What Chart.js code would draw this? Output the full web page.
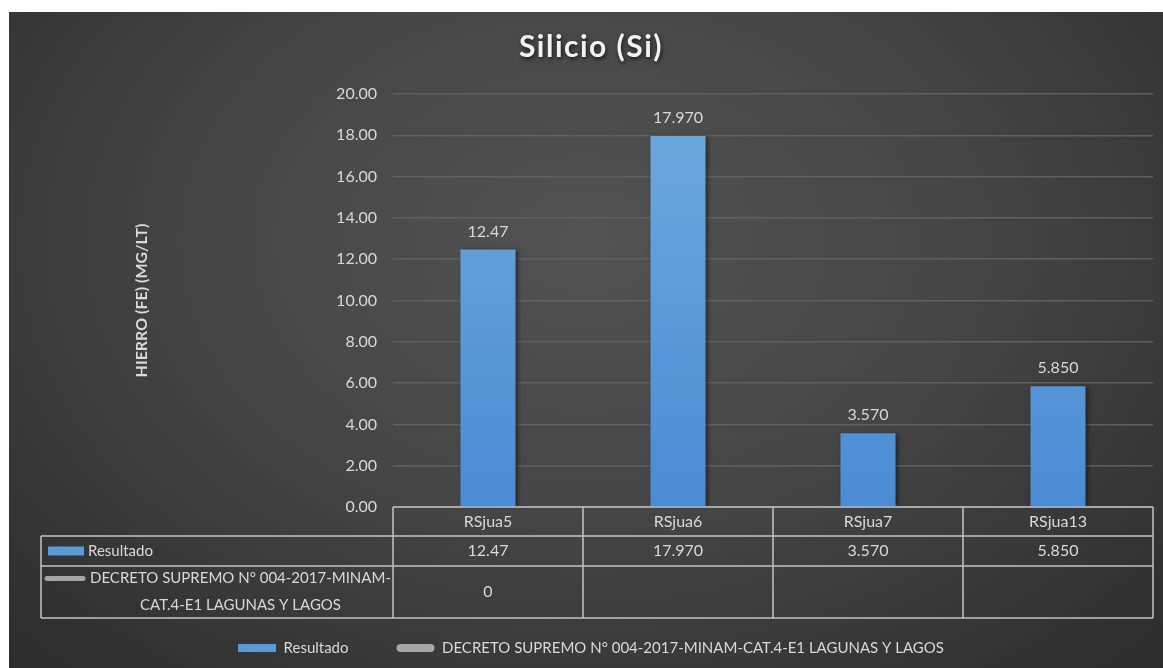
<!DOCTYPE html>
<html lang="es">
<head>
  <meta charset="UTF-8">
  <title>Silicio (Si)</title>
  <script src="https://cdn.jsdelivr.net/npm/chart.js"></script>
  <style>
    body { margin: 0; background: #fff; }
    #box {
      position: absolute; left: 9px; top: 12px; width: 1154px; height: 656px;
      background: radial-gradient(ellipse 75% 95% at 50% 35%, #525252 0%, #474747 40%, #2a2a2a 100%);
    }
  </style>
</head>
<body>
  <div id="box"><canvas id="chart"></canvas></div>

  <script>
    // datos
    const estaciones = ["RSjua5", "RSjua6", "RSjua7", "RSjua13"];
    const resultado = [12.47, 17.97, 3.57, 5.85];
    const textoResultado = ["12.47", "17.970", "3.570", "5.850"];
    const decreto = [0, null, null, null];
    const textoDecreto = ["0", "", "", ""];
    const nombreResultado = "Resultado";
    const nombreDecreto = "DECRETO SUPREMO N° 004-2017-MINAM-CAT.4-E1 LAGUNAS Y LAGOS";
    const titulo = "Silicio (Si)";
    const tituloY = "HIERRO (FE) (MG/LT)";

    const fuente = 'Lato, "Open Sans", sans-serif';
    const gris = "#d9d9d9";
    const azul = "#5b9bd5";
    const grisLinea = "#a6a6a6";

    function azulBarra(chart) {
      const a = chart.chartArea;
      if (!a) return azul;
      const g = chart.ctx.createLinearGradient(0, a.top, 0, a.bottom);
      g.addColorStop(0, "#6fa9e0");
      g.addColorStop(1, "#4a8bd3");
      return g;
    }

    // corta el texto en espacios o guiones
    function cortar(ctx, texto, ancho) {
      const trozos = texto.split(/(?<=[\s-])/);
      const lineas = [];
      let actual = "";
      for (const t of trozos) {
        if (actual && ctx.measureText((actual + t).trim()).width > ancho) {
          lineas.push(actual.trim());
          actual = t;
        } else {
          actual += t;
        }
      }
      if (actual) lineas.push(actual.trim());
      return lineas;
    }

    const tituloPlugin = {
      id: "tituloPlugin",
      afterDraw(chart) {
        const ctx = chart.ctx;
        ctx.save();
        ctx.font = "bold 30px " + fuente;
        ctx.letterSpacing = "1.5px";
        ctx.fillStyle = "#f2f2f2";
        ctx.textAlign = "center";
        ctx.textBaseline = "middle";
        ctx.shadowColor = "rgba(0,0,0,0.7)";
        ctx.shadowBlur = 4;
        ctx.shadowOffsetX = 1;
        ctx.shadowOffsetY = 2;
        ctx.fillText(titulo, (20 + chart.width - 10) / 2, 35);
        ctx.restore();
      }
    };

    // sombra suave de las barras
    const sombraPlugin = {
      id: "sombraPlugin",
      beforeDatasetDraw(chart, args) {
        if (args.index !== 0) return;
        const ctx = chart.ctx;
        ctx.save();
        ctx.shadowColor = "rgba(0,0,0,0.45)";
        ctx.shadowBlur = 4;
        ctx.shadowOffsetX = 2;
        ctx.shadowOffsetY = 1;
      },
      afterDatasetDraw(chart, args) {
        if (args.index !== 0) return;
        chart.ctx.restore();
      }
    };

    const etiquetasPlugin = {
      id: "etiquetasPlugin",
      afterDatasetsDraw(chart) {
        const ctx = chart.ctx;
        const meta = chart.getDatasetMeta(0);
        ctx.save();
        ctx.font = "16px " + fuente;
        ctx.fillStyle = gris;
        ctx.textAlign = "center";
        ctx.textBaseline = "bottom";
        meta.data.forEach((barra, i) => {
          ctx.fillText(textoResultado[i], barra.x, barra.y - 10);
        });
        ctx.restore();
      }
    };

    // tabla de datos bajo el eje x
    const tablaPlugin = {
      id: "tablaPlugin",
      afterDraw(chart) {
        const ctx = chart.ctx;
        const a = chart.chartArea;
        const x = chart.scales.x;
        const izq = 32;
        const filas = [a.bottom, a.bottom + 29, a.bottom + 59, a.bottom + 111];
        const n = estaciones.length;
        const colW = (a.right - a.left) / n;

        ctx.save();
        ctx.strokeStyle = "#c4c4c4";
        ctx.lineWidth = 1.5;
        ctx.beginPath();
        ctx.moveTo(a.left, filas[0]); ctx.lineTo(a.right, filas[0]);
        for (let r = 1; r < 4; r++) { ctx.moveTo(izq, filas[r]); ctx.lineTo(a.right, filas[r]); }
        for (let c = 0; c <= n; c++) {
          const cx = a.left + c * colW;
          ctx.moveTo(cx, filas[0]); ctx.lineTo(cx, filas[3]);
        }
        ctx.moveTo(izq, filas[1]); ctx.lineTo(izq, filas[3]);
        ctx.stroke();

        ctx.font = "16px " + fuente;
        ctx.fillStyle = gris;
        ctx.textAlign = "center";
        ctx.textBaseline = "middle";
        estaciones.forEach((e, i) => {
          const cx = x.getPixelForValue(i);
          ctx.fillText(e, cx, (filas[0] + filas[1]) / 2);
          ctx.fillText(textoResultado[i], cx, (filas[1] + filas[2]) / 2);
          ctx.fillText(textoDecreto[i], cx, (filas[2] + filas[3]) / 2);
        });

        // claves de la serie
        ctx.font = "15px " + fuente;
        const y1 = (filas[1] + filas[2]) / 2;
        ctx.fillStyle = azul;
        ctx.fillRect(39, y1 - 4.5, 36, 9);
        ctx.fillStyle = gris;
        ctx.textAlign = "left";
        ctx.fillText(nombreResultado, 79, y1);

        const lineas = cortar(ctx, nombreDecreto, a.left - 79);
        const yc = (filas[2] + filas[3]) / 2;
        const y0 = yc - (lineas.length - 1) * 13.5;
        ctx.strokeStyle = grisLinea;
        ctx.lineWidth = 5;
        ctx.lineCap = "round";
        ctx.beginPath();
        ctx.moveTo(38, y0); ctx.lineTo(74, y0);
        ctx.stroke();
        ctx.textAlign = "center";
        lineas.forEach((l, k) => {
          ctx.fillText(l, (79 + a.left) / 2, y0 + k * 27);
        });
        ctx.restore();
      }
    };

    new Chart(document.getElementById("chart"), {
      data: {
        labels: estaciones,
        datasets: [
          {
            type: "bar",
            label: nombreResultado,
            data: resultado,
            backgroundColor: (c) => azulBarra(c.chart),
            barPercentage: 0.29,
            categoryPercentage: 1,
            order: 2
          },
          {
            type: "line",
            label: nombreDecreto,
            data: decreto,
            borderColor: grisLinea,
            borderWidth: 4,
            pointRadius: 0,
            order: 1
          }
        ]
      },
      options: {
        responsive: true,
        maintainAspectRatio: false,
        animation: false,
        layout: { padding: { left: 20, right: 10, top: 82, bottom: 2.5 } },
        plugins: {
          title: { display: false },
          tooltip: { enabled: false },
          legend: {
            position: "bottom",
            labels: {
              color: gris,
              font: { family: fuente, size: 15 },
              boxWidth: 38,
              boxHeight: 8,
              padding: 48,
              useBorderRadius: true,
              generateLabels: (chart) => chart.data.datasets.map((ds, i) => ({
                text: ds.label,
                fillStyle: i ? grisLinea : azul,
                strokeStyle: "transparent",
                lineWidth: 0,
                borderRadius: i ? 4 : 0,
                fontColor: gris,
                datasetIndex: i
              }))
            }
          }
        },
        scales: {
          x: {
            grid: { display: false },
            border: { display: false },
            ticks: { display: false },
            afterFit: (s) => { s.height = 85.5; }
          },
          y: {
            min: 0,
            max: 20,
            ticks: {
              stepSize: 2,
              color: gris,
              font: { family: fuente, size: 16 },
              padding: 16,
              callback: (v) => v.toFixed(2)
            },
            grid: { color: "#5f5f5f", lineWidth: 1.5, drawTicks: false },
            border: { display: false },
            title: {
              display: true,
              text: tituloY,
              color: gris,
              font: { family: fuente, size: 16, weight: "bold" },
              padding: { top: 103, bottom: 0 }
            },
            afterFit: (s) => { s.width = 364; }
          }
        }
      },
      plugins: [tituloPlugin, sombraPlugin, etiquetasPlugin, tablaPlugin]
    });
  </script>
</body>
</html>
